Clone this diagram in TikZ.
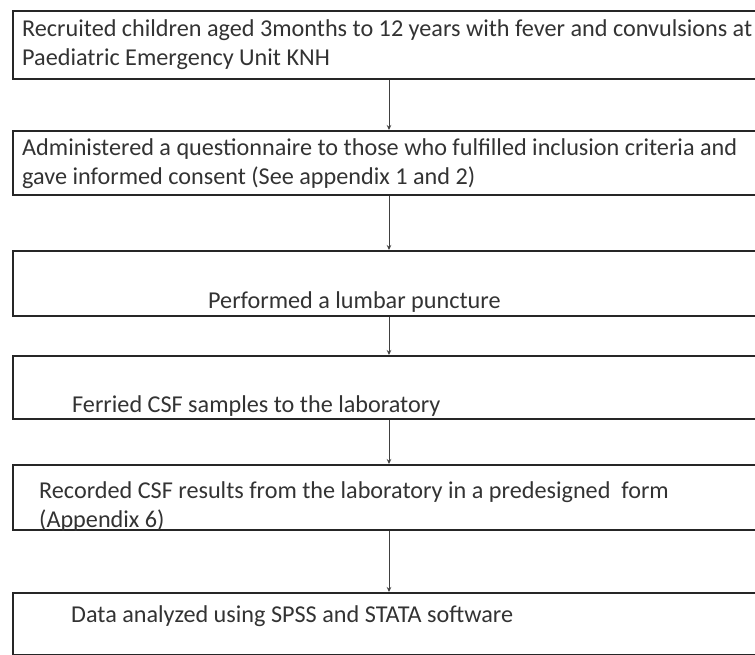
\documentclass[tikz,border=0pt]{standalone}
\usepackage{fontspec}
\setmainfont{Carlito}
\usetikzlibrary{arrows.meta}
\begin{document}
\begin{tikzpicture}[x=1pt,y=-1pt,
  box/.style={draw=black!85, line width=2.4pt, rectangle, inner sep=0pt, anchor=north west, minimum width=820pt},
  txt/.style={anchor=base west, inner sep=0pt, text=black!80, font=\fontsize{24.2}{30}\selectfont},
  arr/.style={draw=black!75, line width=0.9pt, -{Stealth[length=5pt,width=4.5pt]}}]
\useasboundingbox (0,0) rectangle (755,654);
\fill[white] (0,0) rectangle (755,654);
\clip (0,0) rectangle (755,654);
\coordinate (ax) at (389,0);
\node[box, minimum height=68pt] (b1) at (12,10) {};
\node[box, minimum height=64pt] (b2) at (12,130) {};
\node[box, minimum height=65pt] (b3) at (12,250) {};
\node[box, minimum height=63pt] (b4) at (12,355) {};
\node[box, minimum height=65pt] (b5) at (12,464) {};
\node[box, minimum height=62pt] (b6) at (12,592) {};
\node[txt] (t1a) at (22,36) {Recruited children aged 3months to 12 years with fever and convulsions at};
\node[txt] (t1b) at (22,65) {Paediatric Emergency Unit KNH};
\node[txt] (t2a) at (22,155) {Administered a questionnaire to those who fulfilled inclusion criteria and};
\node[txt] (t2b) at (22,184) {gave informed consent (See appendix 1 and 2)};
\node[txt] (t3) at (208,308) {Performed a lumbar puncture};
\node[txt] (t4) at (72,412) {Ferried CSF samples to the laboratory};
\node[txt] (t5a) at (39,498) {Recorded CSF results from the laboratory in a predesigned\ \ form};
\node[txt] (t5b) at (39,527) {(Appendix 6)};
\node[txt] (t6) at (71,622) {Data analyzed using SPSS and STATA software};
\draw[arr] (b1.south -| ax) -- (b2.north -| ax);
\draw[arr] (b2.south -| ax) -- (b3.north -| ax);
\draw[arr] (b3.south -| ax) -- (b4.north -| ax);
\draw[arr] (b4.south -| ax) -- (b5.north -| ax);
\draw[arr] (b5.south -| ax) -- (b6.north -| ax);
\end{tikzpicture}
\end{document}
